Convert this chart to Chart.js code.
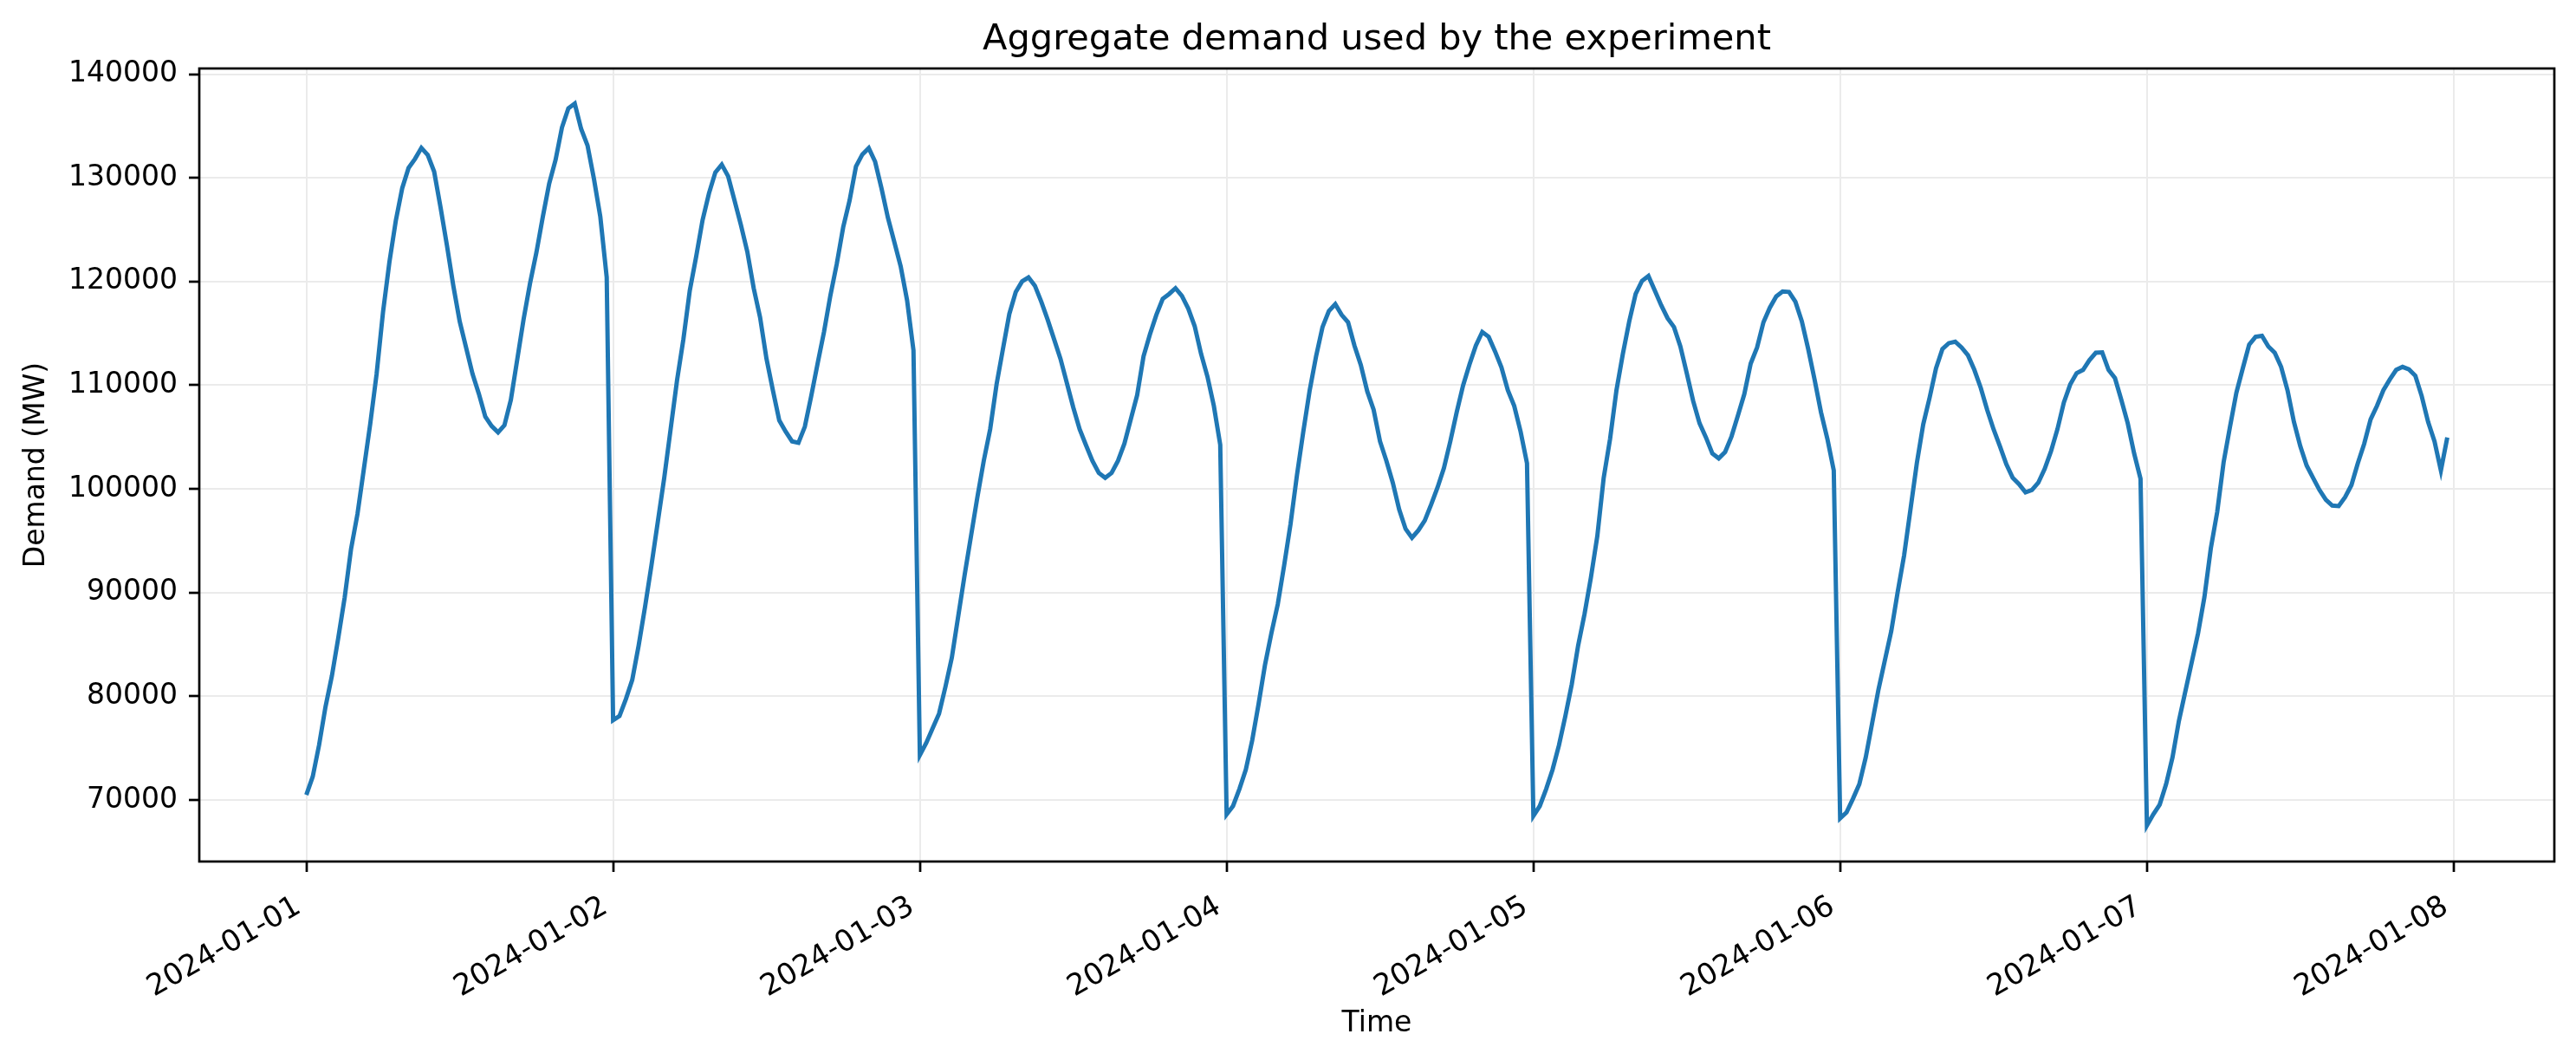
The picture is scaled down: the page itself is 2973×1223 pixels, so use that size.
<!DOCTYPE html>
<html>
<head>
<meta charset="utf-8">
<title>Aggregate demand used by the experiment</title>
<script src="https://cdn.jsdelivr.net/npm/chart.js@4.4.1/dist/chart.umd.min.js"></script>
<style>
  html, body { margin: 0; padding: 0; background: #fff; }
  canvas { display: block; }
</style>
</head>
<body>
<canvas id="demandChart" width="2973" height="1223"></canvas>
<script>
// half-hourly demand in MW, one array per day (00:00 ... 23:30)
var day1 = [70500, 72250, 75320, 79000, 81970, 85640, 89540, 94220, 97570, 101930, 106280, 111100,
	117060, 121880, 125870, 129000, 130960, 131830, 132890, 132200, 130600, 127160, 123490, 119590,
	116150, 113620, 111100, 109170, 106970, 106060, 105460, 106150, 108580, 112480, 116380, 119820,
	122800, 126240, 129450, 131740, 134860, 136700, 137160, 134720, 133120, 129910, 126240, 120410];
var day2 = [77700, 78100, 79730, 81600, 84900, 88640, 92630, 96850, 101070, 105760, 110450, 114440,
	119130, 122410, 125930, 128510, 130530, 131280, 130150, 127810, 125460, 122880, 119360, 116550,
	112560, 109520, 106610, 105530, 104590, 104450, 106000, 108950, 112090, 115140, 118660, 121710,
	125230, 127810, 131090, 132260, 132870, 131560, 128980, 126160, 123820, 121470, 118190, 113360];
var day3 = [74340, 75510, 76920, 78330, 80910, 83720, 87710, 91690, 95440, 99200, 102720, 105760,
	110080, 113500, 116880, 118990, 120020, 120400, 119600, 118050, 116320, 114440, 112560, 110220,
	107870, 105760, 104210, 102710, 101540, 101070, 101540, 102710, 104360, 106700, 109050, 112800,
	114910, 116780, 118330, 118800, 119360, 118610, 117390, 115700, 113030, 110830, 108010, 104260];
var day4 = [68620, 69420, 71060, 72930, 75750, 79260, 83020, 86070, 88880, 92630, 96620, 101310,
	105530, 109520, 112800, 115610, 117160, 117820, 116780, 116080, 113830, 111950, 109420, 107640,
	104590, 102710, 100600, 98020, 96150, 95300, 96010, 96950, 98490, 100140, 102010, 104590,
	107400, 109980, 112000, 113830, 115140, 114670, 113270, 111720, 109520, 108010, 105530, 102480];
var day5 = [68480, 69420, 71060, 72930, 75280, 78090, 81140, 84890, 87940, 91460, 95440, 101070,
	104830, 109520, 113030, 116170, 118800, 120070, 120540, 119130, 117720, 116460, 115610, 113740,
	111160, 108480, 106330, 104970, 103420, 102950, 103560, 105060, 107080, 109140, 112090, 113640,
	116080, 117490, 118570, 119040, 119000, 118050, 116170, 113500, 110550, 107400, 104830, 101780];
var day6 = [68240, 68810, 70120, 71530, 74110, 77390, 80670, 83490, 86300, 90050, 93570, 98020,
	102480, 106230, 108810, 111630, 113500, 114060, 114200, 113640, 112890, 111480, 109750, 107640,
	105760, 104120, 102390, 101070, 100460, 99670, 99900, 100600, 101920, 103650, 105760, 108340,
	110080, 111160, 111480, 112420, 113130, 113170, 111480, 110690, 108580, 106330, 103420, 100980];
var day7 = [67540, 68620, 69560, 71530, 74110, 77620, 80440, 83250, 86070, 89580, 94270, 97790,
	102570, 106000, 109280, 111630, 113920, 114670, 114760, 113740, 113130, 111770, 109520, 106470,
	104120, 102250, 101070, 99900, 98960, 98400, 98350, 99200, 100370, 102480, 104360, 106700,
	108010, 109520, 110550, 111480, 111770, 111530, 110920, 108950, 106470, 104590, 101780, 104970];

var dayLabels = ["2024-01-01", "2024-01-02", "2024-01-03", "2024-01-04",
	"2024-01-05", "2024-01-06", "2024-01-07", "2024-01-08"];
var yTickValues = [70000, 80000, 90000, 100000, 110000, 120000, 130000, 140000];
var stepsPerDay = 48;
var chartTitle = "Aggregate demand used by the experiment";

// flatten days into {x: days since 2024-01-01, y: MW}
var demandDays = [day1, day2, day3, day4, day5, day6, day7];
var points = [];
demandDays.forEach(function (dayValues, d) {
	dayValues.forEach(function (v, i) {
		points.push({x: d + i / stepsPerDay, y: v});
	});
});

// matplotlib-style 5% margin on x
var lastX = points[points.length - 1].x;
var xPad = 0.05 * lastX;

Chart.defaults.font.family = "'DejaVu Sans', sans-serif";
Chart.defaults.color = "#000";

//draws the full box round the plot area (like the axes spines) and the title centred over it
var framePlugin = {
	id: "frame",
	afterDatasetsDraw: function (chart) {
		var a = chart.chartArea;
		var ctx = chart.ctx;
		ctx.save();
		ctx.strokeStyle = "#000";
		ctx.lineWidth = 2.7;
		ctx.strokeRect(a.left, a.top, a.right - a.left, a.bottom - a.top);
		ctx.fillStyle = "#000";
		ctx.font = "41.5px 'DejaVu Sans', sans-serif";
		ctx.textAlign = "center";
		ctx.textBaseline = "alphabetic";
		ctx.fillText(chartTitle, (a.left + a.right) / 2, 57);
		ctx.restore();
	}
};

var gridStyle = {
	color: "#ebebeb",
	lineWidth: 2,
	tickColor: "#000",
	tickLength: 12,
	tickWidth: 2.7
};

var demandChart = new Chart(document.getElementById("demandChart"), {
	type: "line",
	data: {
		datasets: [{
			label: "Demand",
			data: points,
			borderColor: "#1f77b4",
			borderWidth: 5,
			pointRadius: 0,
			tension: 0,
			fill: false
		}]
	},
	options: {
		responsive: false,
		animation: false,
		devicePixelRatio: 1,
		layout: {padding: {left: 0, right: 25, top: 79, bottom: 0}},
		plugins: {
			legend: {display: false},
			tooltip: {enabled: false},
			title: {display: false}
		},
		scales: {
			x: {
				type: "linear",
				min: -xPad,
				max: lastX + xPad,
				afterBuildTicks: function (axis) {
					axis.ticks = dayLabels.map(function (l, i) { return {value: i}; });
				},
				afterFit: function (scale) { scale.height = 229; },
				ticks: {
					autoSkip: false,
					minRotation: 30,
					maxRotation: 30,
					padding: 20,
					labelOffset: -9,
					font: {size: 34},
					callback: function (value, index) { return dayLabels[index]; }
				},
				grid: gridStyle,
				border: {display: false},
				title: {
					display: true,
					text: "Time",
					font: {size: 33},
					padding: {top: 0, bottom: 22}
				}
			},
			y: {
				type: "linear",
				min: 64070,
				max: 140550,
				afterBuildTicks: function (axis) {
					axis.ticks = yTickValues.map(function (v) { return {value: v}; });
				},
				afterFit: function (scale) { scale.width = 230; },
				ticks: {
					padding: 13,
					font: {size: 33},
					callback: function (value) { return String(value); }
				},
				grid: gridStyle,
				border: {display: false},
				title: {
					display: true,
					text: "Demand (MW)",
					font: {size: 33},
					padding: {top: 23, bottom: 0}
				}
			}
		}
	},
	plugins: [framePlugin]
});
</script>
</body>
</html>
